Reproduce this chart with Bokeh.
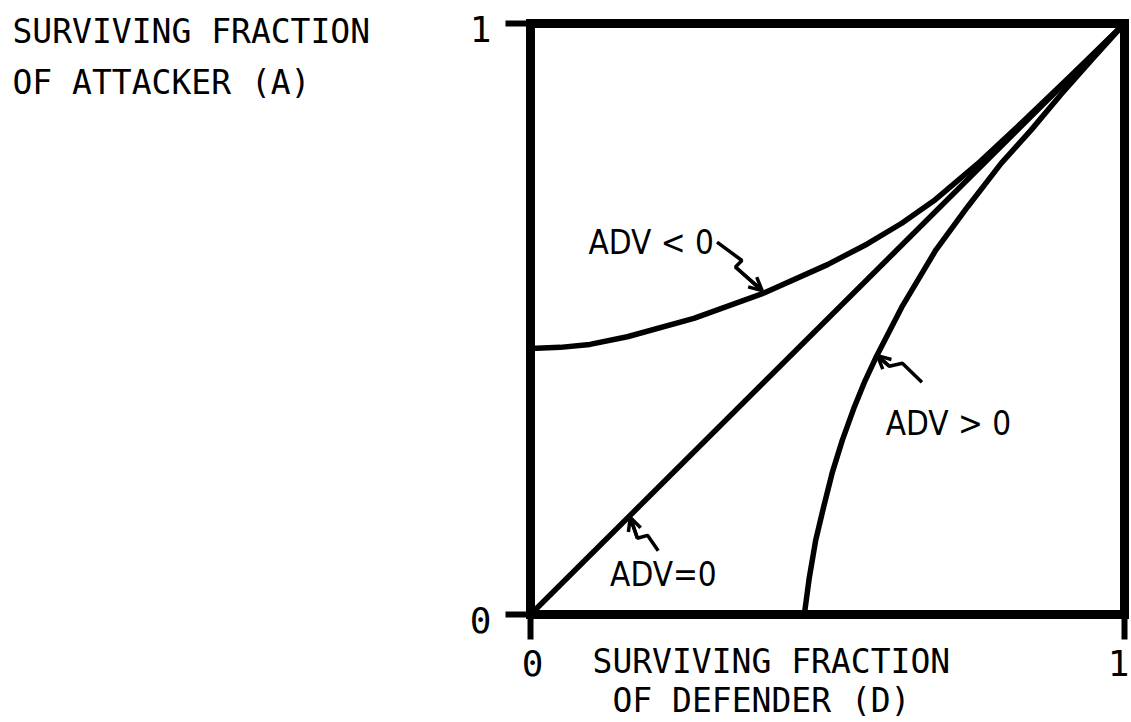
import numpy as np
from bokeh.plotting import figure
from bokeh.models import Arrow, OpenHead, Range1d
from bokeh.core.properties import value
from bokeh.embed import file_html
from bokeh.resources import INLINE

# ---- data (fractions 0..1) ----
tick_values = [0, 1]
tick_labels = ["0", "1"]

adv_zero_x = [0.0, 1.0]
adv_zero_y = [0.0, 1.0]

adv_neg_x = [0.0, 0.05, 0.10, 0.163, 0.275, 0.393, 0.50, 0.567, 0.625, 0.679, 0.752, 0.83, 0.91, 1.0]
adv_neg_y = [0.45, 0.452, 0.457, 0.470, 0.501, 0.544, 0.592, 0.627, 0.662, 0.700, 0.762, 0.835, 0.912, 1.0]

adv_pos_x = [0.461, 0.469, 0.480, 0.493, 0.508, 0.525, 0.544, 0.563, 0.583, 0.625, 0.682, 0.736, 0.792, 0.843, 0.893, 0.946, 1.0]
adv_pos_y = [0.0, 0.06, 0.125, 0.18, 0.24, 0.295, 0.348, 0.395, 0.438, 0.52, 0.616, 0.69, 0.763, 0.82, 0.88, 0.94, 1.0]

# annotation pointers (squiggly arrows)
arrow_neg_x = [0.314, 0.356, 0.345, 0.390]
arrow_neg_y = [0.630, 0.599, 0.588, 0.548]
arrow_pos_x = [0.659, 0.626, 0.604, 0.584]
arrow_pos_y = [0.393, 0.425, 0.420, 0.438]
arrow_zero_x = [0.215, 0.197, 0.180, 0.168]
arrow_zero_y = [0.108, 0.134, 0.129, 0.164]

curve_labels = ["ADV < 0", "ADV > 0", "ADV=0"]
curve_label_x = [0.0976, 0.598, 0.134]
curve_label_y = [0.630, 0.324, 0.0677]

y_title = ["SURVIVING FRACTION", "OF ATTACKER (A)"]
y_title_x = [-0.8721, -0.8721]
y_title_y = [0.9865, 0.9002]
x_title = ["SURVIVING FRACTION", "OF DEFENDER (D)"]
x_title_x = [0.1044, 0.138]
x_title_y = [-0.0795, -0.1455]

MONO = value("DejaVu Sans Mono")
NARROW = value("DejaVu Sans Condensed, DejaVu Sans, sans-serif")

# the plotting frame covers the whole canvas; the 0..1 box is drawn inside it
p = figure(width=1131, height=722,
           x_range=Range1d(-0.89226, 1.01178), y_range=Range1d(-0.18274, 1.03892),
           output_backend="svg", toolbar_location=None,
           x_axis_location=None, y_axis_location=None,
           min_border=0)
p.background_fill_color = "white"
p.border_fill_color = "white"
p.outline_line_color = None
p.grid.visible = False

# curves
p.line(adv_zero_x, adv_zero_y, line_width=5.5, line_color="black")
p.line(adv_neg_x, adv_neg_y, line_width=5.5, line_color="black", line_join="round")
p.line(adv_pos_x, adv_pos_y, line_width=5.5, line_color="black", line_join="round")

# frame box
p.quad(left=[tick_values[0]], right=[tick_values[-1]], bottom=[tick_values[0]], top=[tick_values[-1]],
       fill_color=None, line_color="black", line_width=9, line_join="miter")

# tick marks (outward)
p.ray(x=[tick_values[0]] * len(tick_values), y=tick_values, length=25, length_units="screen",
      angle=np.pi, line_width=6, line_color="black")
p.ray(x=tick_values, y=[tick_values[0]] * len(tick_values), length=25, length_units="screen",
      angle=-np.pi / 2, line_width=6, line_color="black")

# tick labels
p.text(x=[tick_values[0]] * len(tick_values), y=tick_values, text=tick_labels,
       x_offset=-50, y_offset=5, text_font=MONO, text_font_size="36px", text_color="black",
       text_align="center", text_baseline="middle")
p.text(x=tick_values, y=[tick_values[0]] * len(tick_values), text=tick_labels,
       x_offset=[2, -6], y_offset=48, text_font=MONO, text_font_size="36px", text_color="black",
       text_align="center", text_baseline="middle")

# squiggly pointers
for ax_, ay_ in ((arrow_neg_x, arrow_neg_y), (arrow_pos_x, arrow_pos_y), (arrow_zero_x, arrow_zero_y)):
    p.line(ax_, ay_, line_width=3.5, line_color="black")
    p.add_layout(Arrow(end=OpenHead(size=13, line_width=3.5, line_color="black"),
                       x_start=ax_[-2], y_start=ay_[-2], x_end=ax_[-1], y_end=ay_[-1],
                       line_width=3.5, line_color="black"))

# curve labels
p.text(x=curve_label_x, y=curve_label_y, text=curve_labels, text_font=NARROW,
       text_font_size="33px", text_color="black", text_align="left", text_baseline="middle")

# axis titles
p.text(x=y_title_x, y=y_title_y, text=y_title, text_font=MONO, text_font_size="33px",
       text_color="black", text_align="left", text_baseline="middle")
p.text(x=x_title_x, y=x_title_y, text=x_title, text_font=MONO, text_font_size="33px",
       text_color="black", text_align="left", text_baseline="middle")

open("out.html", "w").write(file_html(p, INLINE))
